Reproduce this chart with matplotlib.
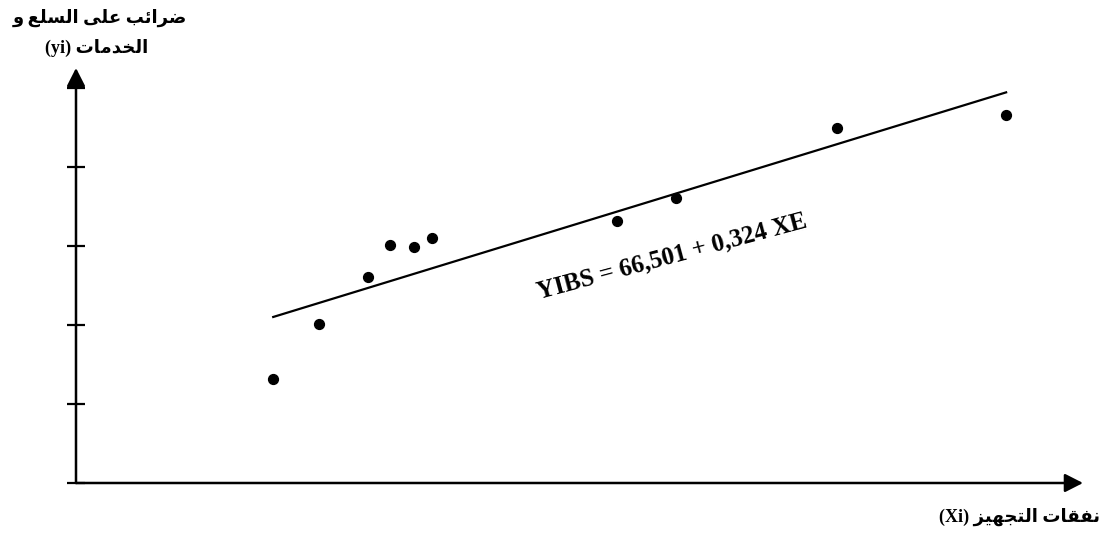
import numpy as np
import matplotlib
matplotlib.use("Agg")
import matplotlib.pyplot as plt

# ------------------------------------------------------------
# data (y axis ticks every 100 units)
# ------------------------------------------------------------
depenses_equipement = [443, 498, 557, 583, 612, 633, 854, 925, 1118, 1320]   # Xi
impots_biens = [132, 201, 260, 301, 298, 310, 332, 360, 449, 466]              # yi
y_ticks = [0, 100, 200, 300, 400, 500]

# regression line  Y = 66,501 + 0,324 X
intercept = 66.501
pente = 0.324
x_ligne = [443, 1320]

equation = "YIBS = 66,501 + 0,324 XE"
label_y1 = "ضرائب على السلع و"
label_y2 = "الخدمات"
label_x = "نفقات التجهيز"

# ------------------------------------------------------------
# small arabic shaper (matplotlib does no shaping / bidi)
# forms: isolated, final, initial, medial
# ------------------------------------------------------------
FORMES = {
    'ا': ('\uFE8D', '\uFE8E'),
    'ب': ('\uFE8F', '\uFE90', '\uFE91', '\uFE92'),
    'ت': ('\uFE95', '\uFE96', '\uFE97', '\uFE98'),
    'ج': ('\uFE9D', '\uFE9E', '\uFE9F', '\uFEA0'),
    'خ': ('\uFEA5', '\uFEA6', '\uFEA7', '\uFEA8'),
    'د': ('\uFEA9', '\uFEAA'),
    'ر': ('\uFEAD', '\uFEAE'),
    'ز': ('\uFEAF', '\uFEB0'),
    'س': ('\uFEB1', '\uFEB2', '\uFEB3', '\uFEB4'),
    'ض': ('\uFEBD', '\uFEBE', '\uFEBF', '\uFEC0'),
    'ع': ('\uFEC9', '\uFECA', '\uFECB', '\uFECC'),
    'ف': ('\uFED1', '\uFED2', '\uFED3', '\uFED4'),
    'ق': ('\uFED5', '\uFED6', '\uFED7', '\uFED8'),
    'ل': ('\uFEDD', '\uFEDE', '\uFEDF', '\uFEE0'),
    'م': ('\uFEE1', '\uFEE2', '\uFEE3', '\uFEE4'),
    'ن': ('\uFEE5', '\uFEE6', '\uFEE7', '\uFEE8'),
    'ه': ('\uFEE9', '\uFEEA', '\uFEEB', '\uFEEC'),
    'و': ('\uFEED', '\uFEEE'),
    'ى': ('\uFEEF', '\uFEF0'),
    'ي': ('\uFEF1', '\uFEF2', '\uFEF3', '\uFEF4'),
    'ئ': ('\uFE89', '\uFE8A', '\uFE8B', '\uFE8C'),
}


def rtl(texte):
    out = []
    for i, c in enumerate(texte):
        if c not in FORMES:
            out.append(c)
            continue
        f = FORMES[c]
        avant = i > 0 and texte[i - 1] in FORMES and len(FORMES[texte[i - 1]]) == 4
        apres = i < len(texte) - 1 and texte[i + 1] in FORMES and len(f) == 4
        if avant and apres:
            out.append(f[3])
        elif avant:
            out.append(f[1])
        elif apres:
            out.append(f[2])
        else:
            out.append(f[0])
    return "".join(out)[::-1]


# ------------------------------------------------------------
# figure
# ------------------------------------------------------------
W, H = 1104, 540
fig = plt.figure(figsize=(W / 100, H / 100), dpi=100)
ax = fig.add_axes([76 / W, 57 / H, (1083 - 76) / W, (483 - 68) / H])
ax.set_xlim(207, 1412)
ax.set_ylim(0, 525)

for s in ax.spines.values():
    s.set_visible(False)
ax.set_xticks([])
ax.set_yticks(y_ticks)
ax.set_yticklabels([])
ax.tick_params(axis='y', direction='inout', length=13, width=1.6, color='black')

# axes with arrows
fleche = dict(arrowstyle='-|>,head_length=0.55,head_width=0.28', color='black',
              lw=1.8, mutation_scale=20, shrinkA=0, shrinkB=0)
ax.annotate('', xy=(1, 0), xytext=(0, 0), xycoords='axes fraction',
            arrowprops=fleche, annotation_clip=False)
ax.annotate('', xy=(0, 1), xytext=(0, 0), xycoords='axes fraction',
            arrowprops=fleche, annotation_clip=False)

# points + regression line
ax.scatter(depenses_equipement, impots_biens, s=50, color='black', zorder=3, clip_on=False)
x_l = np.array(x_ligne)
ax.plot(x_l, intercept + pente * x_l, color='black', lw=1.6)

# equation along the line
fig.text(672 / W, 1 - 256 / H, equation, fontsize=18, fontweight='bold',
         family=['Liberation Serif'], rotation=15, ha='center', va='center',
         rotation_mode='anchor')

fam = ['Liberation Serif', 'DejaVu Sans']
fig.text(100 / W, 1 - 18 / H, rtl(label_y1), ha='center', va='center',
         fontsize=13, fontweight='bold', family=fam)
fig.text(97 / W, 1 - 48 / H, "(yi) " + rtl(label_y2), ha='center', va='center',
         fontsize=13, fontweight='bold', family=fam)
fig.text(1100 / W, 1 - 517 / H, "(Xi) " + rtl(label_x), ha='right', va='center',
         fontsize=13, fontweight='bold', family=fam)

fig.savefig("out.png", dpi=100)
